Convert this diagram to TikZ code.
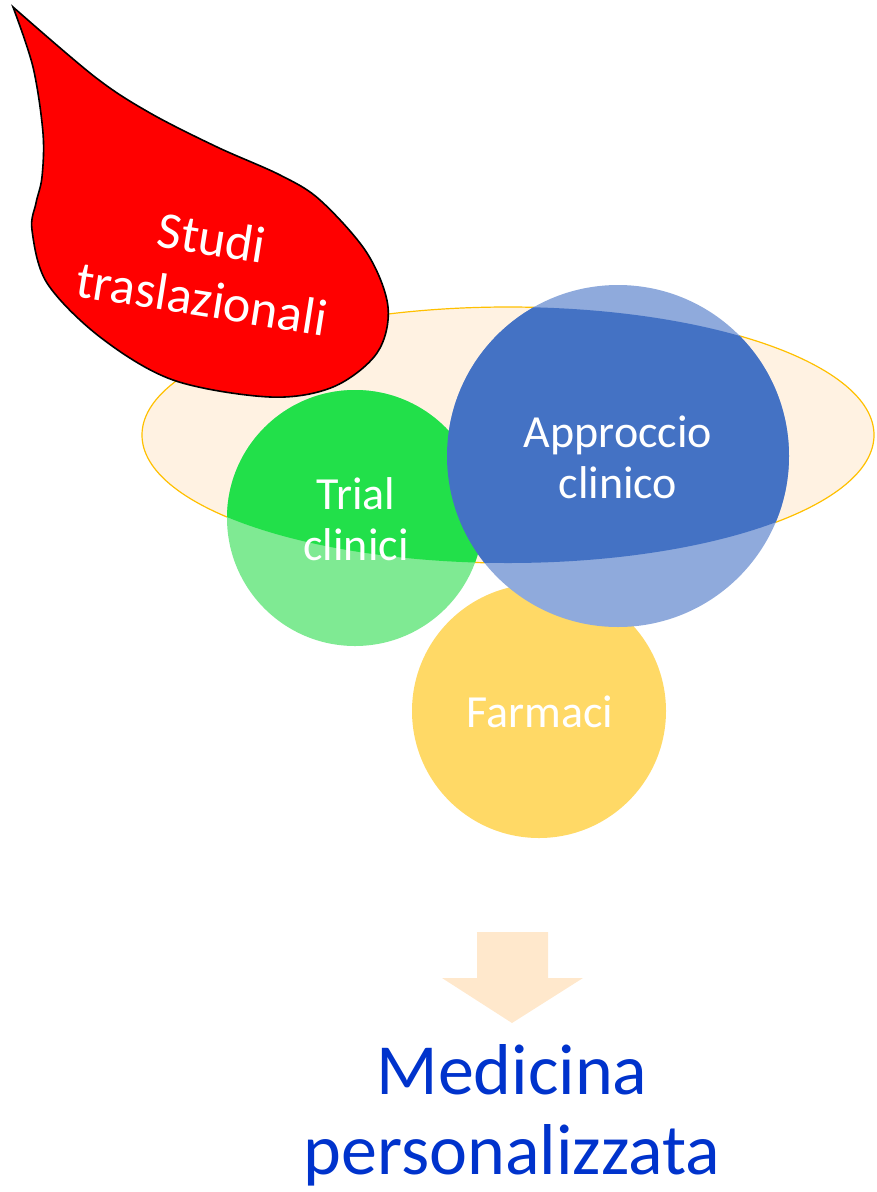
\documentclass[tikz,border=0pt]{standalone}
\usepackage{fontspec}
\setmainfont{Carlito}
\definecolor{ellfill}{RGB}{255,242,226}
\definecolor{ellline}{RGB}{255,192,0}
\definecolor{gdark}{RGB}{34,224,74}
\definecolor{glight}{RGB}{127,234,147}
\definecolor{bdark}{RGB}{68,114,196}
\definecolor{blight}{RGB}{143,170,220}
\definecolor{yel}{RGB}{255,217,102}
\definecolor{arrowc}{RGB}{255,232,204}
\definecolor{medblue}{RGB}{0,51,204}
\tikzset{
  circlabel/.style={text=white, align=center, font=\fontsize{46}{51}\selectfont},
}
\begin{document}
\begin{tikzpicture}[x=1pt,y=-1pt]
\useasboundingbox (0,0) rectangle (877,1192);
% ellipse
\fill[ellfill] (508,435) ellipse [x radius=366, y radius=128];
\draw[ellline, line width=1.2pt] (508,435) ellipse [x radius=366, y radius=128];
% circles, light (outside ellipse)
\fill[glight] (355,518) circle [radius=128];
\fill[yel] (539,711) circle [radius=127];
\fill[blight] (618,456) circle [radius=171];
% circles, dark (inside ellipse)
\begin{scope}
  \clip (508,435) ellipse [x radius=366, y radius=128];
  \fill[gdark] (355,518) circle [radius=128];
  \fill[bdark] (618,456) circle [radius=171];
\end{scope}
% labels
\node[circlabel] (trial) at (356,519) {Trial\\clinici};
\node[circlabel] (appr) at (618,457) {Approccio\\clinico};
\node[circlabel] (farm) at (540,712) {Farmaci};
% red drop
\draw[fill=red, draw=black, line width=1.6pt]
  plot[smooth, tension=0.55] coordinates {
    (13,7) (95,77) (150,113) (217,147) (280,175) (320,200) (367,253)
    (388,307) (377,353) (333,387) (270,397) (173,380) (100,337) (47,283)
    (32,230) (36,203) (42,177) (43,133) (33,67) (13,7)} -- cycle;
\begin{scope}[y=1pt]
\node[text=white, align=center, rotate=-9, font=\fontsize{52}{62}\selectfont] (studi) at (207,-268) {Studi\\traslazionali};
\end{scope}
% arrow
\fill[arrowc] (477,932) -- (548,932) -- (548,978) -- (583,978) -- (512,1023)
  -- (442,978) -- (477,978) -- cycle;
\coordinate (arrowtip) at (512,1023);
% result
\node[text=medblue, align=center, font=\fontsize{72}{80}\selectfont, anchor=north] (med) at (512,1041) {Medicina\\personalizzata};
\end{tikzpicture}
\end{document}
